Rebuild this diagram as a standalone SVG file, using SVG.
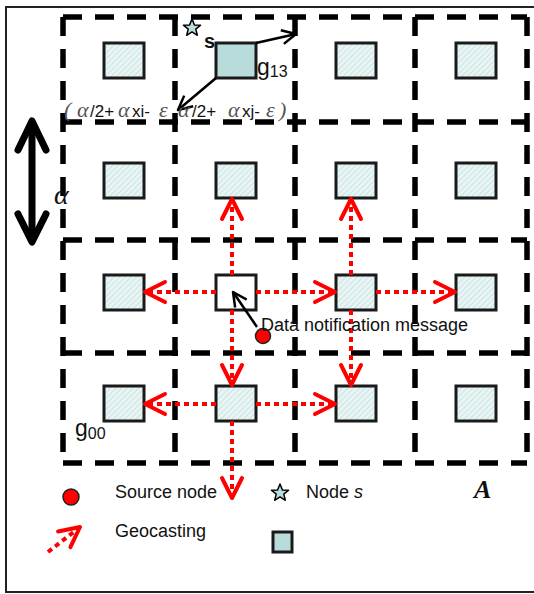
<svg xmlns="http://www.w3.org/2000/svg" width="534" height="594" viewBox="0 0 534 594">
<style>
.grid{stroke:#000;stroke-width:5.5;stroke-dasharray:19 13;fill:none}
.sq{fill:url(#hatch);stroke:#1a1a1a;stroke-width:3}
.sqs{fill:#b8dcdc;stroke:#1a1a1a;stroke-width:3}
.sqw{fill:#fff;stroke:#1a1a1a;stroke-width:3}
.geo{stroke:#ff0000;stroke-width:4;stroke-dasharray:5 4;fill:none;marker-end:url(#rh)}
.blk{stroke:#000;stroke-width:2.5;fill:none;marker-end:url(#bh)}
.t{font-family:"Liberation Sans",Arial,sans-serif;fill:#111}
.g{font-family:"Liberation Serif","Times New Roman",serif;font-style:italic;fill:#555;font-size:22px}
</style>
<defs>
<pattern id="hatch" width="4" height="4" patternUnits="userSpaceOnUse" patternTransform="rotate(45)">
<rect width="4" height="4" fill="#e9f5f5"/>
<line x1="0" y1="0" x2="0" y2="4" stroke="#c2dddd" stroke-width="1.5"/>
</pattern>
<marker id="rh" viewBox="0 0 26 26" refX="23" refY="13" markerWidth="26" markerHeight="26" markerUnits="userSpaceOnUse" orient="auto">
<path d="M3,3 L23,13 L3,23" fill="none" stroke="#ff0000" stroke-width="4" stroke-linejoin="round" stroke-linecap="round"/>
</marker>
<marker id="bh" viewBox="0 0 18 18" refX="16" refY="9" markerWidth="18" markerHeight="18" markerUnits="userSpaceOnUse" orient="auto">
<path d="M2,2 L16,9 L2,16" fill="none" stroke="#000" stroke-width="2.5" stroke-linejoin="round"/>
</marker>
<polygon id="star" points="0,-9 2.4,-3.1 8.6,-2.8 3.8,1.1 5.3,7.3 0,3.9 -5.3,7.3 -3.8,1.1 -8.6,-2.8 -2.4,-3.1" fill="#b8dcdc" stroke="#000" stroke-width="1.5" stroke-linejoin="round"/>
</defs>
<rect width="534" height="594" fill="#fff"/>
<rect x="6" y="7" width="560" height="585" fill="none" stroke="#222" stroke-width="2"/>

<g id="grid">
<line class="grid" x1="63" y1="17" x2="527" y2="17"/>
<line class="grid" x1="63" y1="122" x2="527" y2="122"/>
<line class="grid" x1="63" y1="240" x2="527" y2="240"/>
<line class="grid" x1="63" y1="353" x2="527" y2="353"/>
<line class="grid" x1="63" y1="463" x2="527" y2="463"/>
<line class="grid" x1="63" y1="17" x2="63" y2="463"/>
<line class="grid" x1="175" y1="17" x2="175" y2="463"/>
<line class="grid" x1="295" y1="17" x2="295" y2="463"/>
<line class="grid" x1="415" y1="17" x2="415" y2="463"/>
<line class="grid" x1="527" y1="17" x2="527" y2="463"/>
</g>

<g id="g03"><rect class="sq" x="104" y="43" width="40" height="35"/></g>
<g id="g13"><rect class="sqs" x="216" y="43" width="40" height="35"/></g>
<g id="g23"><rect class="sq" x="336" y="43" width="40" height="35"/></g>
<g id="g33"><rect class="sq" x="456" y="43" width="40" height="35"/></g>
<g id="g02"><rect class="sq" x="104" y="163" width="40" height="35"/></g>
<g id="g12"><rect class="sq" x="216" y="163" width="40" height="35"/></g>
<g id="g22"><rect class="sq" x="336" y="163" width="40" height="35"/></g>
<g id="g32"><rect class="sq" x="456" y="163" width="40" height="35"/></g>
<g id="g01"><rect class="sq" x="104" y="275" width="40" height="35"/></g>
<g id="g11"><rect class="sqw" x="216" y="275" width="40" height="35"/></g>
<g id="g21"><rect class="sq" x="336" y="275" width="40" height="35"/></g>
<g id="g31"><rect class="sq" x="456" y="275" width="40" height="35"/></g>
<g id="g00"><rect class="sq" x="104" y="386" width="40" height="35"/></g>
<g id="g10"><rect class="sq" x="216" y="386" width="40" height="35"/></g>
<g id="g20"><rect class="sq" x="336" y="386" width="40" height="35"/></g>
<g id="g30"><rect class="sq" x="456" y="386" width="40" height="35"/></g>

<g id="connectors">
<line class="geo" x1="216" y1="292" x2="145" y2="292"/>
<line class="geo" x1="256" y1="292" x2="335" y2="292"/>
<line class="geo" x1="376" y1="292" x2="455" y2="292"/>
<line class="geo" x1="232" y1="275" x2="232" y2="199"/>
<line class="geo" x1="232" y1="310" x2="232" y2="385"/>
<line class="geo" x1="351" y1="275" x2="351" y2="199"/>
<line class="geo" x1="351" y1="310" x2="351" y2="385"/>
<line class="geo" x1="216" y1="404" x2="145" y2="404"/>
<line class="geo" x1="256" y1="404" x2="335" y2="404"/>
<line class="geo" x1="232" y1="421" x2="232" y2="498"/>
<line class="blk" x1="257" y1="327" x2="233" y2="292"/>
<line class="blk" x1="256" y1="43" x2="296" y2="34"/>
<line class="blk" x1="216" y1="78" x2="178" y2="110"/>
</g>

<g id="source-node"><circle cx="263" cy="336" r="7.5" fill="#ff0000" stroke="#222" stroke-width="1.5"/></g>
<text class="t" x="261" y="331" font-size="18">Data notification message</text>

<g id="node-s">
<use href="#star" x="192" y="28"/>
<text class="t" x="204" y="48" font-size="20" font-weight="bold">s</text>
</g>
<text class="t" x="257" y="75" font-size="23">g<tspan font-size="16" dy="2">13</tspan></text>
<text class="t" x="75" y="436" font-size="23">g<tspan font-size="16" dy="3">00</tspan></text>

<text font-size="17" y="117">
<tspan class="g" x="64" font-style="normal" font-size="19">(</tspan><tspan class="g" x="77">α</tspan><tspan class="t" x="90">/2+</tspan><tspan class="g" x="118">α</tspan><tspan class="t" x="132">xi-</tspan><tspan class="g" x="159">ε</tspan><tspan class="g" x="178">α</tspan><tspan class="t" x="192">/2+</tspan><tspan class="g" x="228">α</tspan><tspan class="t" x="242">xj-</tspan><tspan class="g" x="266">ε</tspan><tspan class="g" x="279" font-style="normal" font-size="19">)</tspan>
</text>

<g id="alpha-arrow">
<line x1="32" y1="122" x2="32" y2="240" stroke="#000" stroke-width="7" stroke-linecap="round"/>
<polyline points="18,150 32,121 46,150" fill="none" stroke="#000" stroke-width="7" stroke-linecap="round" stroke-linejoin="round"/>
<polyline points="18,214 32,242 46,214" fill="none" stroke="#000" stroke-width="7" stroke-linecap="round" stroke-linejoin="round"/>
<text x="54" y="204" font-family="Liberation Serif,serif" font-style="italic" font-size="28" fill="#111">α</text>
</g>

<g id="legend">
<circle cx="71" cy="497" r="8" fill="#ff0000" stroke="#222" stroke-width="1.5"/>
<text class="t" x="115" y="498" font-size="18">Source node</text>
<use href="#star" x="280" y="493"/>
<text class="t" x="306" y="498" font-size="18">Node <tspan font-style="italic">s</tspan></text>
<text x="474" y="498" font-family="Liberation Serif,serif" font-style="italic" font-weight="bold" font-size="26" fill="#111">A</text>
<line class="geo" x1="48" y1="552" x2="80" y2="527"/>
<text class="t" x="115" y="537" font-size="18">Geocasting</text>
<rect x="273" y="532" width="19" height="20" fill="#b8dcdc" stroke="#1a1a1a" stroke-width="3"/>
</g>
</svg>
